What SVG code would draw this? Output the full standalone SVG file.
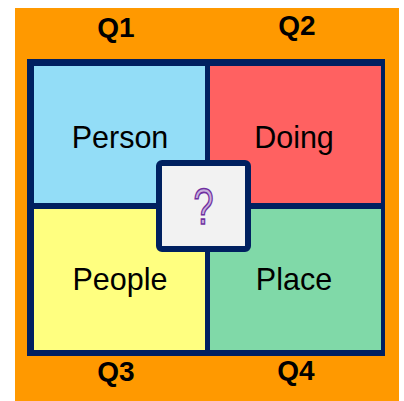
<svg xmlns="http://www.w3.org/2000/svg" width="404" height="401" viewBox="0 0 404 401">
<style>
.q{font-family:"Liberation Sans",Arial,sans-serif;font-weight:bold;font-size:28px;fill:#000;text-anchor:middle}
.lbl{font-family:"Liberation Sans",Arial,sans-serif;font-size:30.5px;fill:#000;text-anchor:middle}
</style>
<rect x="15" y="8" width="384" height="393" fill="#FF9900"/>
<g id="frame"><rect x="27" y="59" width="358" height="297" fill="#002060"/></g>
<g id="person"><rect x="34" y="66" width="171" height="137" fill="#93DDF7"/><text class="lbl" x="120" y="148">Person</text></g>
<g id="doing"><rect x="210" y="66" width="171" height="137" fill="#FF6161"/><text class="lbl" x="294" y="148">Doing</text></g>
<g id="people"><rect x="34" y="209" width="171" height="141" fill="#FFFF80"/><text class="lbl" x="120" y="290">People</text></g>
<g id="place"><rect x="210" y="209" width="171" height="141" fill="#80D9A8"/><text class="lbl" x="294" y="290">Place</text></g>
<g id="center"><rect x="159" y="163" width="89" height="86" rx="3" fill="#F2F2F2" stroke="#002060" stroke-width="6"/>
<text x="0" y="0" transform="translate(203.5 224) scale(0.72 1)" font-family="Liberation Sans,Arial,sans-serif" font-size="50" fill="#C8B0DD" stroke="#7030A0" stroke-width="1.6" text-anchor="middle">?</text></g>
<g id="q1"><text class="q" x="116" y="37">Q1</text></g>
<g id="q2"><text class="q" x="297" y="35">Q2</text></g>
<g id="q3"><text class="q" x="116" y="381">Q3</text></g>
<g id="q4"><text class="q" x="296" y="380">Q4</text></g>
<g id="connectors"></g>
</svg>
